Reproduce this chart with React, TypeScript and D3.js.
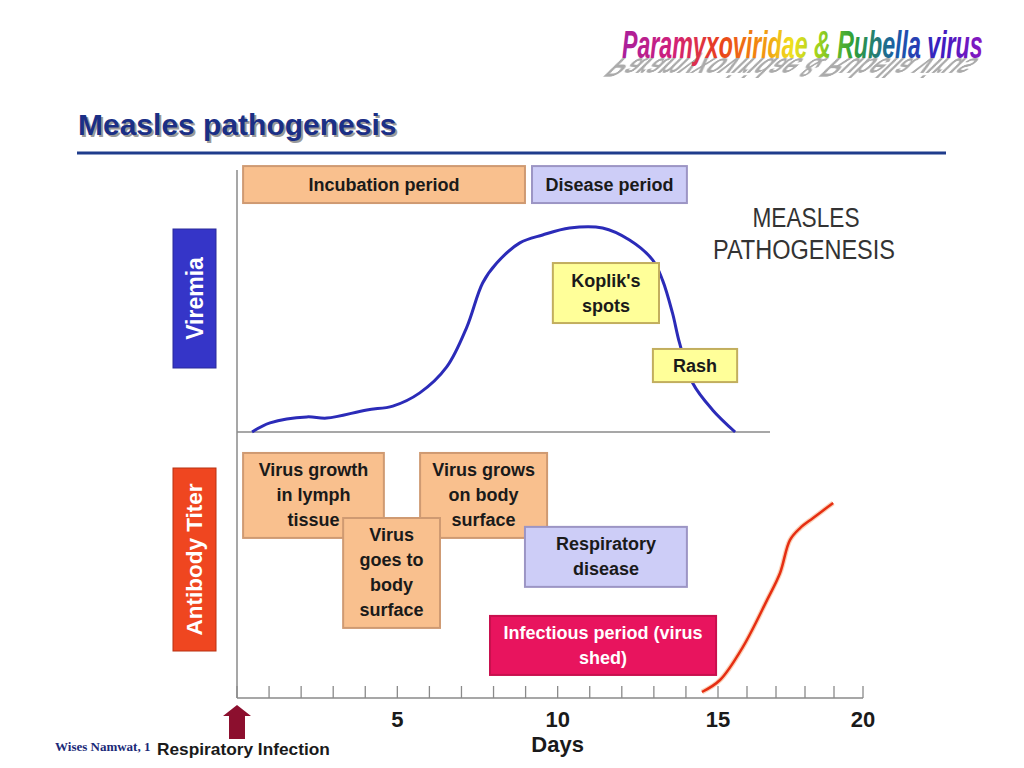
import React from "react";
import * as d3 from "d3";

// viremia curve (days, relative level 0-10)
const viremiaDays = [0.47, 1.03, 2.18, 2.8, 4.05, 4.86, 5.7, 6.54, 7.17, 7.66, 8.1, 8.82, 9.53, 10.37, 11.4, 12.24, 12.96, 13.27, 13.58, 13.8, 14.21, 14.83, 15.59];
const viremiaLevels = [0, 0.38, 0.63, 0.58, 0.92, 1.08, 1.63, 2.71, 4.38, 6.21, 7.04, 7.88, 8.21, 8.5, 8.5, 8.0, 7.17, 6.33, 4.96, 3.71, 2.04, 0.92, 0];

// antibody titer curve
const antibodyDays = [14.5, 15.07, 15.86, 16.69, 17.14, 17.48, 17.83, 18.28, 18.97];
const antibodyLevels = [0.25, 0.75, 2.13, 4.08, 5.21, 6.58, 7.08, 7.5, 8.13];

const dayTicks = d3.range(0, 21);
const dayLabels = [5, 10, 15, 20];

// annotation boxes: day span + level span in each panel's units
const viremiaNotes = [
  { lines: ["Incubation period"], from: 0.19, to: 8.98, top: 11.08, bottom: 9.54, kind: "peach" },
  { lines: ["Disease period"], from: 9.2, to: 14.03, top: 11.08, bottom: 9.54, kind: "lilac" },
  { lines: ["Koplik's", "spots"], from: 9.85, to: 13.16, top: 7.04, bottom: 4.54, kind: "yellow" },
  { lines: ["Rash"], from: 12.97, to: 15.66, top: 3.46, bottom: 2.08, kind: "yellow" },
];
const antibodyNotes = [
  { lines: ["Virus growth", "in lymph", "tissue"], from: 0.19, to: 4.58, top: 10.21, bottom: 6.67, kind: "peach" },
  { lines: ["Virus grows", "on body", "surface"], from: 5.71, to: 9.67, top: 10.21, bottom: 6.67, kind: "peach" },
  { lines: ["Virus", "goes to", "body", "surface"], from: 3.31, to: 6.33, top: 7.5, bottom: 2.92, kind: "peach" },
  { lines: ["Respiratory", "disease"], from: 8.98, to: 14.03, top: 7.13, bottom: 4.63, kind: "lilac" },
  { lines: ["Infectious period (virus", "shed)"], from: 7.89, to: 14.94, top: 3.42, bottom: 0.96, kind: "pink" },
];

const boxStyles: Record<string, { fill: string; stroke: string; text: string }> = {
  peach: { fill: "#f9c08e", stroke: "#cf9a72", text: "#1a1a1a" },
  lilac: { fill: "#cdcdf7", stroke: "#9c95c4", text: "#1a1a1a" },
  yellow: { fill: "#ffff99", stroke: "#c2ae5e", text: "#1a1a1a" },
  pink: { fill: "#e8145e", stroke: "#c8104e", text: "#ffffff" },
};

const bold = "'Liberation Sans', Arial, sans-serif";

export default function App() {
  // the original axis is not evenly spaced after day 15
  const x = d3.scaleLinear().domain([0, 15, 20]).range([237, 718, 863]);
  const yV = d3.scaleLinear().domain([0, 10]).range([432, 192]);
  const yA = d3.scaleLinear().domain([0, 10]).range([698, 458]);
  const axisY = yA(0);

  const viremiaLine = d3
    .line<number>()
    .x((d, i) => x(viremiaDays[i]))
    .y((d) => yV(d))
    .curve(d3.curveCatmullRom);
  const antibodyLine = d3
    .line<number>()
    .x((d, i) => x(antibodyDays[i]))
    .y((d) => yA(d))
    .curve(d3.curveCatmullRom);

  const drawNote = (n: any, y: any, key: string) => {
    const st = boxStyles[n.kind];
    const x0 = x(n.from), x1 = x(n.to);
    const y0 = y(n.top), y1 = y(n.bottom);
    const cy = (y0 + y1) / 2;
    const lh = 25;
    return (
      <g key={key}>
        <rect x={x0} y={y0} width={x1 - x0} height={y1 - y0} fill={st.fill} stroke={st.stroke} strokeWidth={2} />
        {n.lines.map((l: string, i: number) => (
          <text
            key={i}
            x={(x0 + x1) / 2}
            y={cy + (i - (n.lines.length - 1) / 2) * lh}
            textAnchor="middle"
            dominantBaseline="central"
            fontFamily={bold}
            fontWeight="bold"
            fontSize={18}
            fill={st.text}
          >
            {l}
          </text>
        ))}
      </g>
    );
  };

  // header is a condensed bold italic: squeeze a normal face horizontally
  const headerText = "Paramyxoviridae & Rubella virus";
  const squeeze = 0.61;

  return (
    <svg width={1024} height={768} style={{ position: "absolute", left: 0, top: 0, background: "#fff" }}>
      <defs>
        <linearGradient id="rainbow" x1="0" x2="1" y1="0" y2="0">
          <stop offset="0" stopColor="#a8209c" />
          <stop offset="0.14" stopColor="#d0207a" />
          <stop offset="0.27" stopColor="#e8401c" />
          <stop offset="0.38" stopColor="#f28a10" />
          <stop offset="0.47" stopColor="#f0e020" />
          <stop offset="0.55" stopColor="#98d020" />
          <stop offset="0.64" stopColor="#30a038" />
          <stop offset="0.76" stopColor="#1a5ca8" />
          <stop offset="0.88" stopColor="#3a1cc0" />
          <stop offset="1" stopColor="#8a18c0" />
        </linearGradient>
        <filter id="soft" x="-10%" y="-30%" width="120%" height="160%">
          <feGaussianBlur stdDeviation="0.7" />
        </filter>
      </defs>

      {/* header with its cast shadow */}
      <g transform="translate(622,58)">
        <text
          transform={`skewX(-50) scale(${squeeze},-0.72)`}
          x={0}
          y={0}
          fontFamily={bold}
          fontWeight="bold"
          fontStyle="italic"
          fontSize={38}
          fill="#ababab"
          filter="url(#soft)"
        >
          {headerText}
        </text>
        <text
          transform={`scale(${squeeze},1)`}
          x={0}
          y={0}
          fontFamily={bold}
          fontWeight="bold"
          fontStyle="italic"
          fontSize={38}
          fill="url(#rainbow)"
        >
          {headerText}
        </text>
      </g>

      {/* title */}
      <text x={80} y={137} fontFamily={bold} fontWeight="bold" fontSize={30} fill="#9a9a9a">
        Measles pathogenesis
      </text>
      <text x={78} y={135} fontFamily={bold} fontWeight="bold" fontSize={30} fill="#1b2f86">
        Measles pathogenesis
      </text>
      <line x1={77} x2={946} y1={153} y2={153} stroke="#1f3c8c" strokeWidth={3} />

      {/* axes */}
      <line x1={x(0)} x2={x(0)} y1={170} y2={axisY} stroke="#8a8a8a" strokeWidth={1.5} />
      <line x1={x(0)} x2={770} y1={yV(0)} y2={yV(0)} stroke="#8a8a8a" strokeWidth={1.5} />
      <line x1={x(0)} x2={x(20)} y1={axisY} y2={axisY} stroke="#8a8a8a" strokeWidth={1.5} />
      {dayTicks.map((d) => (
        <line key={d} x1={x(d)} x2={x(d)} y1={axisY} y2={axisY - 12} stroke="#8a8a8a" strokeWidth={1.3} />
      ))}
      {dayLabels.map((d) => (
        <text key={d} x={x(d)} y={727} textAnchor="middle" fontFamily={bold} fontWeight="bold" fontSize={22} fill="#1a1a1a">
          {d}
        </text>
      ))}
      <text x={x(10)} y={752} textAnchor="middle" fontFamily={bold} fontWeight="bold" fontSize={22} fill="#1a1a1a">
        Days
      </text>

      {/* infection arrow */}
      <path
        d={`M${x(0)},705 L${x(0) + 14},716 L${x(0) + 8},716 L${x(0) + 8},739 L${x(0) - 8},739 L${x(0) - 8},716 L${x(0) - 14},716 Z`}
        fill="#8c0f2e"
      />
      <text x={157} y={755} fontFamily={bold} fontWeight="bold" fontSize={17.3} fill="#1a1a1a">
        Respiratory Infection
      </text>
      <text x={55} y={751} fontFamily="'Liberation Serif', 'Times New Roman', serif" fontWeight="bold" fontSize={13} fill="#1b2a78">
        Wises Namwat, 1
      </text>

      {/* side labels */}
      <rect x={173} y={229} width={43} height={139} fill="#3535c8" stroke="#2a2a9a" strokeWidth={1} />
      <text
        transform={`translate(${194.5},${298.5}) rotate(-90)`}
        textAnchor="middle"
        dominantBaseline="central"
        fontFamily={bold}
        fontWeight="bold"
        fontSize={23}
        fill="#fff"
      >
        Viremia
      </text>
      <rect x={173} y={468} width={43} height={183} fill="#ef4620" stroke="#b83010" strokeWidth={1} />
      <text
        transform={`translate(${194.5},${559.5}) rotate(-90)`}
        textAnchor="middle"
        dominantBaseline="central"
        fontFamily={bold}
        fontWeight="bold"
        fontSize={22.5}
        fill="#fff"
      >
        Antibody Titer
      </text>

      <text x={806} y={227} textAnchor="middle" fontFamily="'Liberation Sans', Arial, sans-serif" fontSize={27} textLength={107} lengthAdjust="spacingAndGlyphs" fill="#333">
        MEASLES
      </text>
      <text x={804} y={259} textAnchor="middle" fontFamily="'Liberation Sans', Arial, sans-serif" fontSize={27} textLength={182} lengthAdjust="spacingAndGlyphs" fill="#333">
        PATHOGENESIS
      </text>

      {/* curves */}
      <path d={viremiaLine(viremiaLevels) || ""} fill="none" stroke="#2b2bb8" strokeWidth={3} />
      {viremiaNotes.map((n, i) => drawNote(n, yV, "v" + i))}

      {antibodyNotes.map((n, i) => drawNote(n, yA, "a" + i))}
      <path d={antibodyLine(antibodyLevels) || ""} fill="none" stroke="#f7b48a" strokeWidth={5} opacity={0.6} />
      <path d={antibodyLine(antibodyLevels) || ""} fill="none" stroke="#e62e12" strokeWidth={2.5} />
    </svg>
  );
}
